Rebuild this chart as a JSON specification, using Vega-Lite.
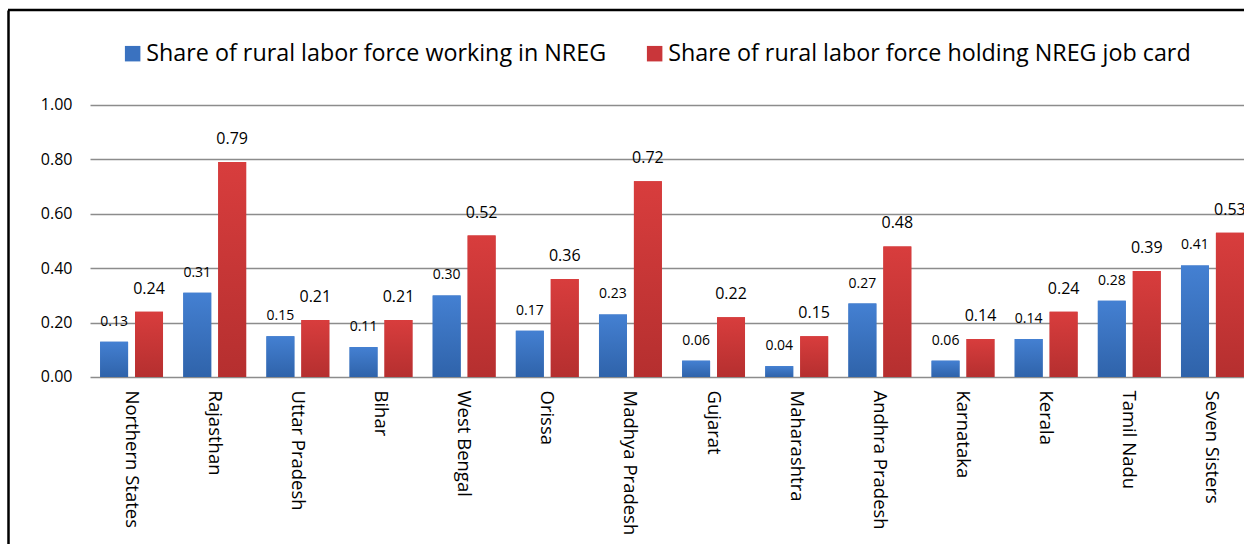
{
  "$schema": "https://vega.github.io/schema/vega-lite/v6.json",
  "width": 1236,
  "height": 534,
  "autosize": "none",
  "padding": {"left": 8, "top": 10, "right": 0, "bottom": 0},
  "background": "white",
  "config": {
    "font": "Open Sans",
    "view": {"stroke": null}
  },
  "data": {
    "values": [
      {"state": "Northern States", "series": "Share of rural labor force working in NREG", "value": 0.13},
      {"state": "Northern States", "series": "Share of rural labor force holding NREG job card", "value": 0.24},
      {"state": "Rajasthan", "series": "Share of rural labor force working in NREG", "value": 0.31},
      {"state": "Rajasthan", "series": "Share of rural labor force holding NREG job card", "value": 0.79},
      {"state": "Uttar Pradesh", "series": "Share of rural labor force working in NREG", "value": 0.15},
      {"state": "Uttar Pradesh", "series": "Share of rural labor force holding NREG job card", "value": 0.21},
      {"state": "Bihar", "series": "Share of rural labor force working in NREG", "value": 0.11},
      {"state": "Bihar", "series": "Share of rural labor force holding NREG job card", "value": 0.21},
      {"state": "West Bengal", "series": "Share of rural labor force working in NREG", "value": 0.30},
      {"state": "West Bengal", "series": "Share of rural labor force holding NREG job card", "value": 0.52},
      {"state": "Orissa", "series": "Share of rural labor force working in NREG", "value": 0.17},
      {"state": "Orissa", "series": "Share of rural labor force holding NREG job card", "value": 0.36},
      {"state": "Madhya Pradesh", "series": "Share of rural labor force working in NREG", "value": 0.23},
      {"state": "Madhya Pradesh", "series": "Share of rural labor force holding NREG job card", "value": 0.72},
      {"state": "Gujarat", "series": "Share of rural labor force working in NREG", "value": 0.06},
      {"state": "Gujarat", "series": "Share of rural labor force holding NREG job card", "value": 0.22},
      {"state": "Maharashtra", "series": "Share of rural labor force working in NREG", "value": 0.04},
      {"state": "Maharashtra", "series": "Share of rural labor force holding NREG job card", "value": 0.15},
      {"state": "Andhra Pradesh", "series": "Share of rural labor force working in NREG", "value": 0.27},
      {"state": "Andhra Pradesh", "series": "Share of rural labor force holding NREG job card", "value": 0.48},
      {"state": "Karnataka", "series": "Share of rural labor force working in NREG", "value": 0.06},
      {"state": "Karnataka", "series": "Share of rural labor force holding NREG job card", "value": 0.14},
      {"state": "Kerala", "series": "Share of rural labor force working in NREG", "value": 0.14},
      {"state": "Kerala", "series": "Share of rural labor force holding NREG job card", "value": 0.24},
      {"state": "Tamil Nadu", "series": "Share of rural labor force working in NREG", "value": 0.28},
      {"state": "Tamil Nadu", "series": "Share of rural labor force holding NREG job card", "value": 0.39},
      {"state": "Seven Sisters", "series": "Share of rural labor force working in NREG", "value": 0.41},
      {"state": "Seven Sisters", "series": "Share of rural labor force holding NREG job card", "value": 0.53}
    ]
  },
  "layer": [
    {
      "encoding": {
        "x": {
          "field": "state",
          "type": "nominal",
          "sort": null,
          "scale": {"range": [82, 1246], "paddingInner": 0, "paddingOuter": 0},
          "axis": {
            "title": null,
            "orient": "bottom",
            "offset": -167,
            "labelAngle": 90,
            "labelAlign": "left",
            "labelBaseline": "middle",
            "labelPadding": 13,
            "labelFontSize": 18.5,
            "labelColor": "black",
            "domain": false,
            "ticks": false,
            "labelOverlap": false,
            "labelLimit": 300
          }
        },
        "xOffset": {
          "field": "series",
          "type": "nominal",
          "scale": {
            "domain": ["Share of rural labor force working in NREG", "Share of rural labor force holding NREG job card"],
            "paddingInner": 0.2,
            "paddingOuter": 0.29
          }
        },
        "y": {
          "field": "value",
          "type": "quantitative",
          "scale": {"domain": [-0.61397, 1.34926], "range": [534, 0], "nice": false, "zero": false},
          "axis": {
            "title": null,
            "orient": "left",
            "offset": 0,
            "values": [0, 0.2, 0.4, 0.6, 0.8, 1.0],
            "format": ".2f",
            "labelFontSize": 16,
            "labelColor": "black",
            "labelAlign": "right",
            "labelPadding": -64,
            "domain": true,
            "domainColor": "black",
            "domainWidth": 2.5,
            "ticks": false,
            "grid": true,
            "gridColor": "#8c8c8c",
            "gridWidth": 1.5
          }
        }
      },
      "layer": [
        {
          "mark": {"type": "bar"},
          "encoding": {
            "y2": {"datum": 0},
            "color": {
              "field": "series",
              "type": "nominal",
              "scale": {
                "domain": ["Share of rural labor force working in NREG", "Share of rural labor force holding NREG job card"],
                "range": ["#3a72c0", "#c9363a"]
              },
              "legend": {
                "title": null,
                "orient": "none",
                "direction": "horizontal",
                "legendX": 113,
                "legendY": 32,
                "symbolType": "square",
                "symbolSize": 240,
                "symbolStrokeWidth": 0,
                "labelFontSize": 23.3,
                "labelColor": "black",
                "labelOffset": 2,
                "columnPadding": 36,
                "labelLimit": 700
              }
            }
          }
        },
        {
          "transform": [{"filter": "datum.series == 'Share of rural labor force working in NREG'"}],
          "mark": {
            "type": "bar",
            "color": {
              "gradient": "linear", "x1": 0, "y1": 0, "x2": 0, "y2": 1,
              "stops": [{"offset": 0, "color": "#4480d2"}, {"offset": 1, "color": "#2f63aa"}]
            }
          },
          "encoding": {"y2": {"datum": 0}}
        },
        {
          "transform": [{"filter": "datum.series == 'Share of rural labor force holding NREG job card'"}],
          "mark": {
            "type": "bar",
            "color": {
              "gradient": "linear", "x1": 0, "y1": 0, "x2": 0, "y2": 1,
              "stops": [{"offset": 0, "color": "#d83d3d"}, {"offset": 1, "color": "#b52f2f"}]
            }
          },
          "encoding": {"y2": {"datum": 0}}
        },
        {
          "transform": [{"filter": "datum.series == 'Share of rural labor force working in NREG'"}],
          "mark": {"type": "text", "baseline": "middle", "dy": -20, "fontSize": 14, "color": "black"},
          "encoding": {"text": {"field": "value", "type": "quantitative", "format": ".2f"}}
        },
        {
          "transform": [{"filter": "datum.series == 'Share of rural labor force holding NREG job card'"}],
          "mark": {"type": "text", "baseline": "middle", "dy": -23, "fontSize": 16, "color": "black"},
          "encoding": {"text": {"field": "value", "type": "quantitative", "format": ".2f"}}
        }
      ]
    },
    {
      "data": {"values": [{"edge": "top"}]},
      "mark": {"type": "rule", "color": "black", "strokeWidth": 2.5},
      "encoding": {"y": {"datum": 1.34926, "type": "quantitative"}}
    }
  ]
}
